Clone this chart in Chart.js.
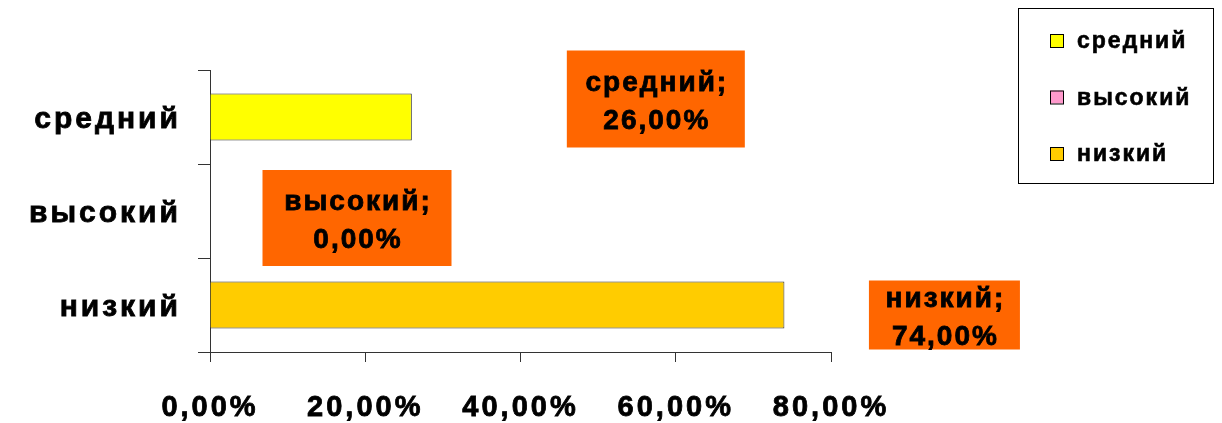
<!DOCTYPE html>
<html>
<head>
<meta charset="utf-8">
<script src="https://cdn.jsdelivr.net/npm/chart.js@4.4.1/dist/chart.umd.min.js"></script>
<style>
    html, body { margin: 0; padding: 0; background: #fff; overflow: hidden; }
    canvas { display: block; }
</style>
</head>
<body>
<canvas id="levelChart" width="1222" height="423"></canvas>
<script>
const categories = ['средний', 'высокий', 'низкий'];
const seriesNames = ['средний', 'высокий', 'низкий'];
const percentValues = [26, 0, 74];
const xTicks = [0, 20, 40, 60, 80];

const seriesColors = ['#FFFF00', '#FF99CC', '#FFCC00'];
const fontFamily = '"Liberation Sans", Arial, sans-serif';

// where the orange value boxes sit, relative to the end of each bar
const labelBoxes = [
    {dx: 244, dy: -18, w: 178, h: 97},
    {dx: 147, dy: 7, w: 189, h: 96},
    {dx: 160, dy: 10, w: 151, h: 69}
];

function formatPercent(v) {
    return v.toFixed(2).replace('.', ',') + '%';
}

function boldText(ctx, text, x, y) {
    ctx.fillText(text, x, y);
    ctx.strokeText(text, x, y);
}

const spacingPlugin = {
    id: 'spacing',
    beforeLayout: function (chart) { chart.ctx.letterSpacing = '3px'; },
    beforeDraw: function (chart) { chart.ctx.letterSpacing = '3px'; }
};

const valueBoxPlugin = {
    id: 'valueBoxes',
    afterDatasetsDraw: function (chart) {
        let ctx = chart.ctx;
        ctx.save();
        chart.data.datasets.forEach(function (ds, i) {
            let bar = chart.getDatasetMeta(i).data[i];
            if (!bar) return;
            let box = labelBoxes[i];
            let cx = bar.x + box.dx;
            let cy = bar.y + box.dy;
            ctx.fillStyle = '#FF6600';
            ctx.fillRect(cx - box.w / 2, cy - box.h / 2, box.w, box.h);
            ctx.fillStyle = '#000';
            ctx.strokeStyle = '#000';
            ctx.lineWidth = 0.8;
            ctx.font = 'bold 28px ' + fontFamily;
            ctx.letterSpacing = '2px';
            ctx.textAlign = 'center';
            ctx.textBaseline = 'middle';
            boldText(ctx, seriesNames[i] + ';', cx + 1, cy - 16);
            boldText(ctx, formatPercent(percentValues[i]), cx + 1, cy + 22);
        });
        ctx.restore();
    },
    afterDraw: function (chart) {
        let ctx = chart.ctx;
        ctx.save();
        ctx.letterSpacing = '2px';
        ctx.strokeStyle = '#000';
        ctx.lineWidth = 1;
        ctx.strokeRect(1018.5, 8.5, 195, 175);
        ctx.font = 'bold 23px ' + fontFamily;
        ctx.textAlign = 'left';
        ctx.textBaseline = 'middle';
        seriesNames.forEach(function (name, i) {
            let y = 41 + i * 56.5;
            ctx.fillStyle = seriesColors[i];
            ctx.fillRect(1050, y - 7, 13, 13);
            ctx.lineWidth = 1;
            ctx.strokeRect(1050.5, y - 6.5, 13, 13);
            ctx.fillStyle = '#000';
            ctx.lineWidth = 0.6;
            boldText(ctx, name, 1077, y + 1);
        });
        ctx.restore();
    }
};

const datasets = seriesNames.map(function (name, i) {
    return {
        label: name,
        data: categories.map(function (c, j) { return j === i ? percentValues[i] : null; }),
        backgroundColor: seriesColors[i],
        borderColor: '#333',
        borderWidth: 1,
        grouped: false,
        barPercentage: 0.5,
        categoryPercentage: 1
    };
});

new Chart(document.getElementById('levelChart'), {
    type: 'bar',
    data: {
        labels: categories,
        datasets: datasets
    },
    options: {
        indexAxis: 'y',
        responsive: false,
        animation: false,
        devicePixelRatio: 1,
        layout: {
            padding: {top: 70, right: 391, left: 0, bottom: 0}
        },
        plugins: {
            legend: {display: false},
            tooltip: {enabled: false}
        },
        scales: {
            x: {
                min: 0,
                max: 80,
                afterBuildTicks: function (scale) {
                    scale.ticks = xTicks.map(function (v) { return {value: v}; });
                },
                afterFit: function (scale) { scale.height = 71; },
                border: {color: '#333', width: 1},
                grid: {drawOnChartArea: false, tickLength: 10, color: '#333'},
                ticks: {
                    callback: formatPercent,
                    color: '#000',
                    padding: 29,
                    maxRotation: 0,
                    textStrokeColor: '#000',
                    textStrokeWidth: 0.8,
                    font: {family: fontFamily, size: 29, weight: 'bold'}
                }
            },
            y: {
                afterFit: function (scale) { scale.width = 210; },
                border: {color: '#333', width: 1},
                grid: {drawOnChartArea: false, tickLength: 12, color: '#333'},
                ticks: {
                    color: '#000',
                    padding: 17,
                    labelOffset: 3,
                    textStrokeColor: '#000',
                    textStrokeWidth: 0.8,
                    font: {family: fontFamily, size: 30, weight: 'bold'}
                }
            }
        }
    },
    plugins: [spacingPlugin, valueBoxPlugin]
});
</script>
</body>
</html>
